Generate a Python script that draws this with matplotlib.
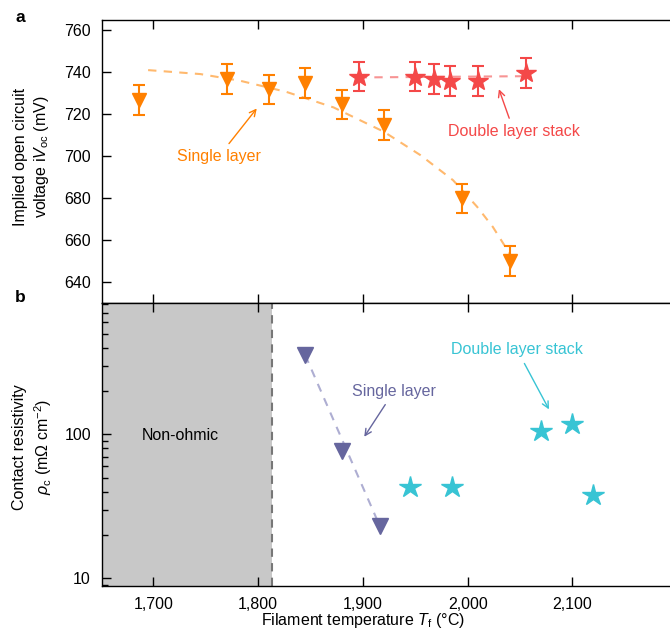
import numpy as np
import matplotlib
matplotlib.use("Agg")
from matplotlib import pyplot as plt
from matplotlib.ticker import StrMethodFormatter, LogLocator, NullFormatter

plt.rcParams['font.family'] = ['Liberation Sans', 'DejaVu Sans']
plt.rcParams['mathtext.fontset'] = 'custom'
plt.rcParams['mathtext.rm'] = 'Liberation Sans'
plt.rcParams['mathtext.it'] = 'Liberation Sans:italic'

# panel a: implied Voc
t_single_a = [1686, 1770, 1810, 1845, 1880, 1920, 1995, 2040]
voc_single = [726.7, 736.6, 731.7, 734.7, 724.5, 714.7, 679.7, 649.8]
err_single = [7, 7, 7, 7, 7, 7, 7, 7]
t_double_a = [1896, 1950, 1968, 1983, 2010, 2056]
voc_double = [737.7, 737.7, 736.6, 735.7, 735.7, 739.6]
err_double = [7, 7, 7, 7, 7, 7]
# guide-to-the-eye curves
t_guide_single = [1695, 1745, 1783, 1827, 1872, 1920, 1955, 1986, 2009, 2024, 2040]
voc_guide_single = [740.9, 739.0, 735.8, 730.5, 723.1, 711.5, 700.3, 688.4, 675.7, 666.1, 653.4]
t_guide_double = [1896, 2056]
voc_guide_double = [737.4, 738.0]

# panel b: contact resistivity
t_single_b = [1845, 1880, 1916]
rho_single = [354, 77, 23.2]
t_double_b = [1945, 1985, 2070, 2100, 2120]
rho_double = [42.8, 42.8, 106, 118, 37.9]
ohmic_limit = 1813

orange = '#ff8000'
red = '#f44848'
cyan = '#38c4d4'
purple = '#66669e'

fig = plt.figure(figsize=(6.7, 6.4), dpi=100)
W, H = 670, 640
left, right = 102, 672
ax1 = fig.add_axes([left / W, 1 - 303 / H, (right - left) / W, (303 - 20) / H])
ax2 = fig.add_axes([left / W, 1 - 585.7 / H, (right - left) / W, (585.7 - 303) / H])

xlim = (1651, 2195)

# ---- panel a
ax1.plot(t_guide_single, voc_guide_single, color='#ffb96e', lw=1.5, ls=(0, (4, 3.5)), zorder=1)
ax1.plot(t_guide_double, voc_guide_double, color='#f79494', lw=1.5, ls=(0, (4, 3.5)), zorder=1)
ax1.errorbar(t_single_a, voc_single, yerr=err_single, fmt='v', color=orange, ms=10,
             capsize=4.5, elinewidth=1.5, capthick=1.5, zorder=3)
ax1.errorbar(t_double_a, voc_double, yerr=err_double, fmt='*', color=red, ms=15,
             capsize=4.5, elinewidth=1.5, capthick=1.5, zorder=3)
ax1.set_xlim(*xlim)
ax1.set_ylim(629.8, 764.8)
ax1.set_yticks([640, 660, 680, 700, 720, 740, 760])
ax1.set_xticks([1700, 1800, 1900, 2000, 2100])
ax1.tick_params(direction='in', length=6.5, width=1, labelsize=11.5, pad=8,
                top=True, labelbottom=False)
ax1.annotate('Single layer', xy=(1798.7, 722.6), xytext=(1762.8, 699.9),
             color=orange, fontsize=11.5, ha='center', va='center',
             arrowprops=dict(arrowstyle='->', color=orange, lw=1,
                             shrinkA=2, shrinkB=0))
ax1.annotate('Double layer stack', xy=(2029.8, 731.8), xytext=(2044, 711.8),
             color=red, fontsize=11.5, ha='center', va='center',
             arrowprops=dict(arrowstyle='->', color=red, lw=1,
                             shrinkA=2, shrinkB=0))

# ---- panel b
ax2.axvspan(xlim[0], ohmic_limit, color='#c8c8c8', lw=0, zorder=0)
ax2.axvline(ohmic_limit, color='#777777', lw=1.5, ls=(0, (4, 3)), zorder=1)
ax2.plot([t_single_b[0], t_single_b[-1]], [rho_single[0], rho_single[-1]],
         color='#aeaed2', lw=1.5, ls=(0, (4, 3.5)), zorder=1)
ax2.plot(t_single_b, rho_single, 'v', color=purple, ms=11, zorder=3)
ax2.plot(t_double_b, rho_double, '*', color=cyan, ms=16, ls='none', zorder=3)
ax2.set_yscale('log')
ax2.set_xlim(*xlim)
ax2.set_ylim(8.9, 816)
ax2.set_yticks([10, 100])
ax2.set_yticklabels(['10', '100'])
ax2.yaxis.set_minor_locator(LogLocator(base=10, subs=np.arange(2, 10)))
ax2.yaxis.set_minor_formatter(NullFormatter())
ax2.set_xticks([1700, 1800, 1900, 2000, 2100])
ax2.xaxis.set_major_formatter(StrMethodFormatter('{x:,.0f}'))
ax2.tick_params(which='major', direction='in', length=6.5, width=1, labelsize=11.5,
                pad=8, top=True)
ax2.tick_params(which='minor', direction='in', length=4, width=1, top=True)
ax2.text(1725.5, 98.9, 'Non-ohmic', fontsize=11.5, ha='center', va='center', color='black')
ax2.annotate('Single layer', xy=(1901.3, 96.2), xytext=(1929.2, 196.8),
             color=purple, fontsize=11.5, ha='center', va='center',
             arrowprops=dict(arrowstyle='->', color=purple, lw=1,
                             shrinkA=2, shrinkB=0))
ax2.annotate('Double layer stack', xy=(2077.6, 149), xytext=(2047, 388),
             color=cyan, fontsize=11.5, ha='center', va='center',
             arrowprops=dict(arrowstyle='->', color=cyan, lw=1,
                             shrinkA=3, shrinkB=0))

for ax in (ax1, ax2):
    for s in ax.spines.values():
        s.set_linewidth(1)

# labels
fig.text(32 / W, 1 - 157 / H, 'Implied open circuit\nvoltage i$V_{\\rm oc}$ (mV)',
         rotation=90, ha='center', va='center', fontsize=11.5, linespacing=1.3)
fig.text(33 / W, 1 - 447 / H, 'Contact resistivity\n$\\rho_{\\rm c}$ (m$\\Omega$ cm$^{-2}$)',
         rotation=90, ha='center', va='center', fontsize=11.5, linespacing=1.3)
fig.text(363 / W, 1 - 620 / H, 'Filament temperature $T_{\\rm f}$ (°C)',
         ha='center', va='center', fontsize=11.5)
fig.text(15 / W, 1 - 18 / H, 'a', fontsize=12.5, fontweight='bold', ha='left', va='center')
fig.text(15 / W, 1 - 298 / H, 'b', fontsize=12.5, fontweight='bold', ha='left', va='center')

fig.savefig('out.png', dpi=100)
